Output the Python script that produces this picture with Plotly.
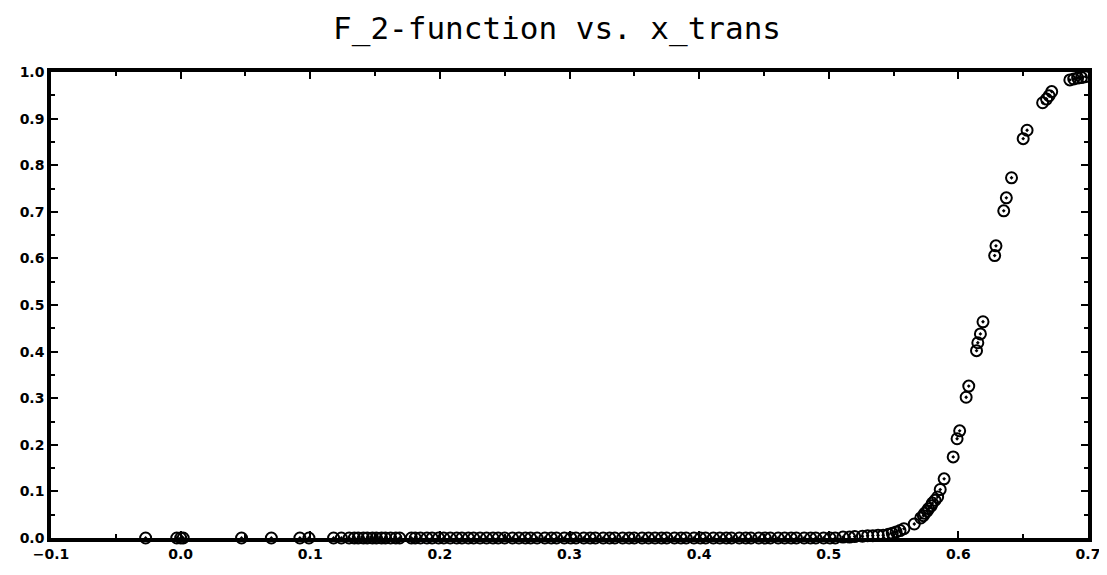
import plotly.graph_objects as go

# Data
x_bottom = [-0.027, -0.003, 0.000, 0.002, 0.047, 0.070, 0.092, 0.099, 0.118, 0.124,
            0.130, 0.134, 0.137, 0.141, 0.144, 0.148, 0.151, 0.155, 0.158, 0.162,
            0.166, 0.169, 0.178, 0.181, 0.185, 0.190, 0.194, 0.199, 0.203, 0.208,
            0.213, 0.217, 0.222, 0.226, 0.231, 0.236, 0.241, 0.245, 0.250, 0.256,
            0.261, 0.266, 0.270, 0.275, 0.281, 0.286, 0.290, 0.296, 0.301, 0.305,
            0.311, 0.316, 0.320, 0.326, 0.331, 0.335, 0.341, 0.346, 0.350, 0.356,
            0.361, 0.366, 0.371, 0.375, 0.381, 0.386, 0.390, 0.396, 0.401, 0.405,
            0.411, 0.416, 0.421, 0.425, 0.431, 0.436, 0.440, 0.446, 0.451, 0.455,
            0.461, 0.466, 0.471, 0.475, 0.481, 0.486, 0.490, 0.496, 0.501, 0.505,
            0.511, 0.516, 0.520, 0.526, 0.530, 0.534, 0.538, 0.542]
y_bottom = [0.0, 0.0, 0.0, 0.0, 0.0, 0.0, 0.0, 0.0, 0.0, 0.0,
            0.0, 0.0, 0.0, 0.0, 0.0, 0.0, 0.0, 0.0, 0.0, 0.0,
            0.0, 0.0, 0.0, 0.0, 0.0, 0.0, 0.0, 0.0, 0.0, 0.0,
            0.0, 0.0, 0.0, 0.0, 0.0, 0.0, 0.0, 0.0, 0.0, 0.0,
            0.0, 0.0, 0.0, 0.0, 0.0, 0.0, 0.0, 0.0, 0.0, 0.0,
            0.0, 0.0, 0.0, 0.0, 0.0, 0.0, 0.0, 0.0, 0.0, 0.0,
            0.0, 0.0, 0.0, 0.0, 0.0, 0.0, 0.0, 0.0, 0.0, 0.0,
            0.0, 0.0, 0.0, 0.0, 0.0, 0.0, 0.0, 0.0, 0.0, 0.0,
            0.0, 0.0, 0.0, 0.0, 0.0, 0.0, 0.0, 0.0, 0.0, 0.0,
            0.002, 0.002, 0.003, 0.004, 0.005, 0.005, 0.006, 0.006]

x_rise = [0.546, 0.549, 0.552, 0.555, 0.558, 0.566,
          0.571, 0.573, 0.574, 0.576, 0.577, 0.579, 0.580, 0.582, 0.584,
          0.586, 0.589, 0.596, 0.599, 0.601, 0.606, 0.608,
          0.614, 0.615, 0.617, 0.619, 0.628, 0.629, 0.635, 0.637,
          0.641, 0.650, 0.653, 0.665, 0.668, 0.670, 0.672,
          0.686, 0.689, 0.692, 0.695, 0.698]
y_rise = [0.008, 0.010, 0.013, 0.016, 0.020, 0.030,
          0.043, 0.048, 0.053, 0.058, 0.063, 0.069, 0.075, 0.081, 0.088,
          0.104, 0.127, 0.174, 0.213, 0.230, 0.302, 0.326,
          0.402, 0.419, 0.438, 0.464, 0.606, 0.627, 0.702, 0.730,
          0.773, 0.857, 0.875, 0.934, 0.942, 0.949, 0.958,
          0.983, 0.985, 0.987, 0.988, 0.990]

x_vals = x_bottom + x_rise
y_vals = y_bottom + y_rise

title_text = "F_2-function vs. x_trans"

fig = go.Figure()
fig.add_trace(go.Scatter(
    x=x_vals, y=y_vals, mode="markers",
    marker=dict(symbol="circle-open-dot", size=11, color="black",
                line=dict(color="black", width=2)),
    cliponaxis=False, showlegend=False,
))

axis_common = dict(
    showline=True, linecolor="black", linewidth=3.5, mirror="ticks",
    ticks="inside", ticklen=7, tickwidth=2, tickcolor="black",
    showgrid=False, zeroline=False,
    tickfont=dict(family="DejaVu Sans", size=14, color="black", weight="bold"),
    minor=dict(ticks="inside", ticklen=4, tickwidth=1.5, tickcolor="black", dtick=0.05),
)

fig.update_xaxes(range=[-0.1, 0.7], dtick=0.1, tick0=-0.1, tickformat=".1f", **axis_common)
fig.update_yaxes(range=[0.0, 1.0], dtick=0.1, tick0=0, tickformat=".1f", **axis_common)

fig.update_layout(
    width=1107, height=575,
    margin=dict(l=39, r=27, t=64, b=45),
    plot_bgcolor="white", paper_bgcolor="white",
    title=dict(text=title_text, x=0.496, xanchor="center", y=0.965, yanchor="middle",
               font=dict(family="DejaVu Sans Mono", size=31, color="black")),
)

fig.write_html("out.html")
